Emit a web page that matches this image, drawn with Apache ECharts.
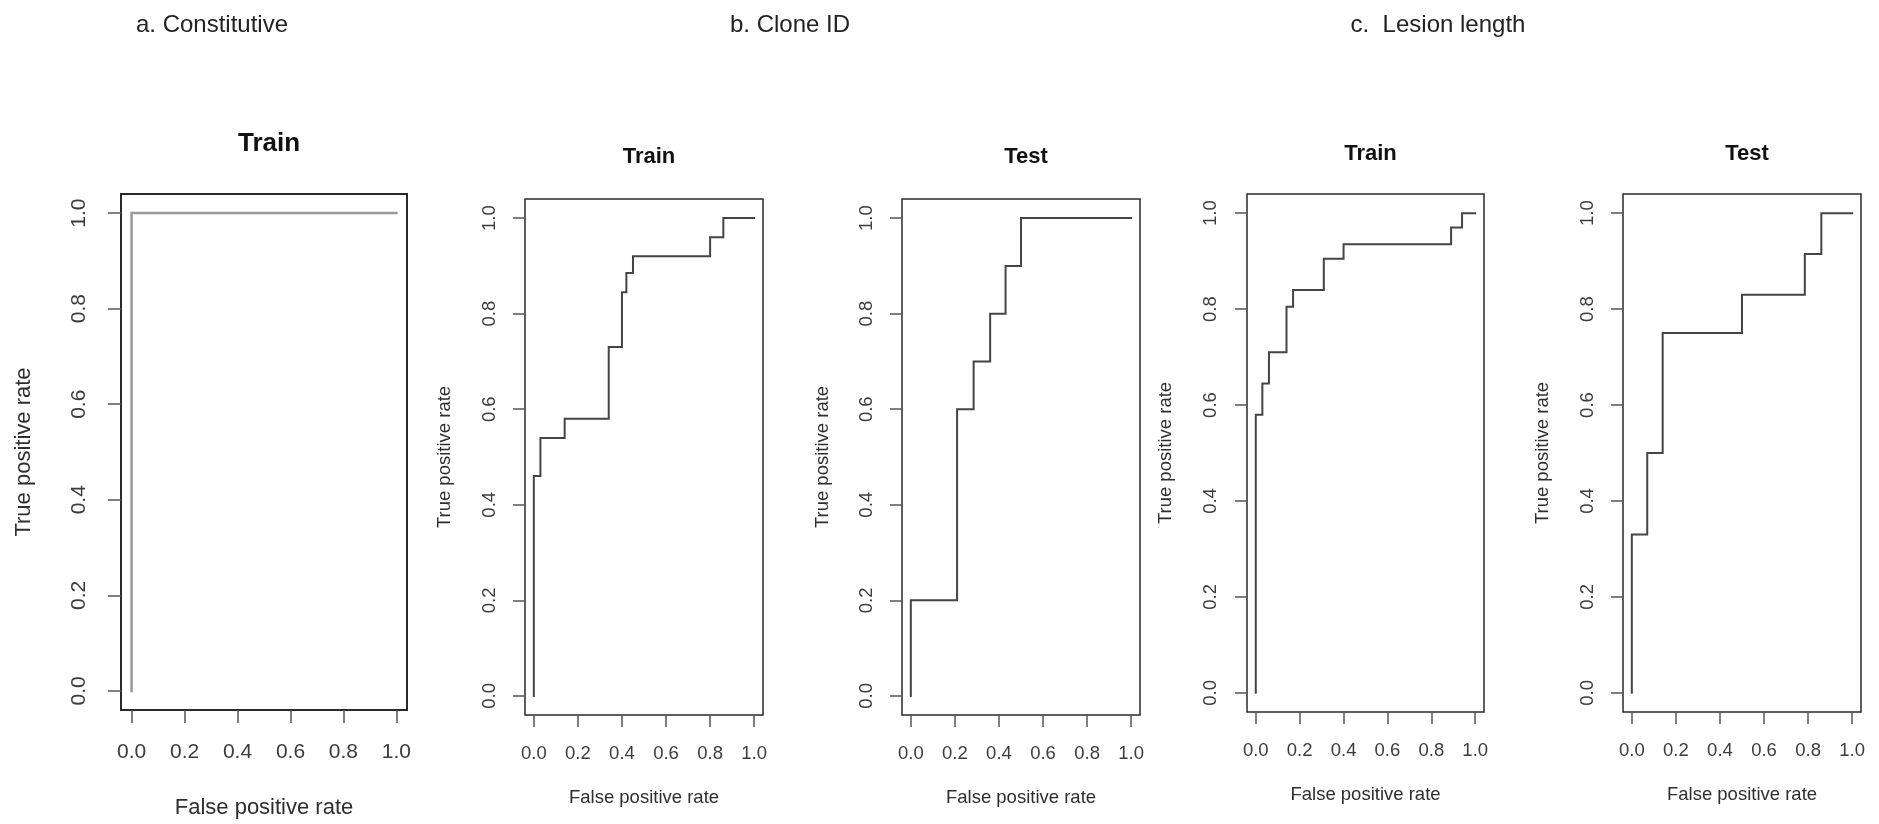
<!DOCTYPE html>
<html>
<head>
<meta charset="utf-8">
<script src="https://cdn.jsdelivr.net/npm/echarts@6/dist/echarts.min.js"></script>
<style>
  html, body { margin: 0; padding: 0; background: #ffffff; }
  #chart { width: 1879px; height: 824px; }
</style>
</head>
<body>
<div id="chart"></div>
<script>
// ---- Data (ROC curve vertices) ----
const tickValues = [0, 0.2, 0.4, 0.6, 0.8, 1.0];

const constitutiveTrainFpr = [0, 0, 1];
const constitutiveTrainTpr = [0, 1, 1];

const cloneTrainFpr = [0, 0, 0.03, 0.03, 0.14, 0.14, 0.34, 0.34, 0.40, 0.40, 0.42, 0.42, 0.45, 0.45, 0.80, 0.80, 0.86, 0.86, 1.0];
const cloneTrainTpr = [0, 0.46, 0.46, 0.54, 0.54, 0.58, 0.58, 0.73, 0.73, 0.845, 0.845, 0.885, 0.885, 0.92, 0.92, 0.96, 0.96, 1.0, 1.0];

const cloneTestFpr = [0, 0, 0.21, 0.21, 0.285, 0.285, 0.36, 0.36, 0.43, 0.43, 0.50, 0.50, 1.0];
const cloneTestTpr = [0, 0.2, 0.2, 0.6, 0.6, 0.7, 0.7, 0.8, 0.8, 0.9, 0.9, 1.0, 1.0];

const lesionTrainFpr = [0, 0, 0.03, 0.03, 0.06, 0.06, 0.14, 0.14, 0.17, 0.17, 0.31, 0.31, 0.40, 0.40, 0.89, 0.89, 0.94, 0.94, 1.0];
const lesionTrainTpr = [0, 0.58, 0.58, 0.645, 0.645, 0.71, 0.71, 0.805, 0.805, 0.84, 0.84, 0.905, 0.905, 0.935, 0.935, 0.97, 0.97, 1.0, 1.0];

const lesionTestFpr = [0, 0, 0.07, 0.07, 0.14, 0.14, 0.50, 0.50, 0.785, 0.785, 0.86, 0.86, 1.0];
const lesionTestTpr = [0, 0.33, 0.33, 0.50, 0.50, 0.75, 0.75, 0.83, 0.83, 0.915, 0.915, 1.0, 1.0];

const groupTitles = ['a. Constitutive', 'b. Clone ID', 'c.  Lesion length'];
const panelTitles = ['Train', 'Train', 'Test', 'Train', 'Test'];
const xAxisTitle = 'False positive rate';
const yAxisTitle = 'True positive rate';

// ---- Layout / styles ----
const FONT = "'Liberation Sans', Arial, Helvetica, sans-serif";
const panels = [
  { fpr: constitutiveTrainFpr, tpr: constitutiveTrainTpr, left: 121, top: 194, width: 286, height: 518,
    tickFont: 21, nameFont: 22, titleFont: 26, titleTop: 126, xMargin: 32, yMargin: 31, xGap: 87, yGap: 86, tickLen: 13,
    lineColor: '#9a9a9a', lineWidth: 2.5, boxWidth: 2 },
  { fpr: cloneTrainFpr, tpr: cloneTrainTpr, left: 525, top: 199, width: 238, height: 516,
    tickFont: 18.5, nameFont: 18.5, titleFont: 22, titleTop: 141, xMargin: 29, yMargin: 26, xGap: 73, yGap: 71, tickLen: 12,
    lineColor: '#444444', lineWidth: 2, boxWidth: 1.5 },
  { fpr: cloneTestFpr, tpr: cloneTestTpr, left: 902, top: 199, width: 238, height: 516,
    tickFont: 18.5, nameFont: 18.5, titleFont: 22, titleTop: 141, xMargin: 29, yMargin: 26, xGap: 73, yGap: 70, tickLen: 12,
    lineColor: '#444444', lineWidth: 2, boxWidth: 1.5 },
  { fpr: lesionTrainFpr, tpr: lesionTrainTpr, left: 1247, top: 194, width: 237, height: 518,
    tickFont: 18.5, nameFont: 18.5, titleFont: 22, titleTop: 138, xMargin: 29, yMargin: 27, xGap: 73, yGap: 72, tickLen: 12,
    lineColor: '#444444', lineWidth: 2, boxWidth: 1.5 },
  { fpr: lesionTestFpr, tpr: lesionTestTpr, left: 1623, top: 194, width: 238, height: 518,
    tickFont: 18.5, nameFont: 18.5, titleFont: 22, titleTop: 138, xMargin: 29, yMargin: 26, xGap: 73, yGap: 71, tickLen: 12,
    lineColor: '#444444', lineWidth: 2, boxWidth: 1.5 }
];
const groupTitlePos = [207, 785, 1433];

const grids = [], xAxes = [], yAxes = [], series = [], titles = [];

groupTitles.forEach((t, i) => {
  titles.push({
    text: t, left: groupTitlePos[i], top: 8, textAlign: 'center',
    textStyle: { fontFamily: FONT, fontSize: 24, fontWeight: 'normal', color: '#222' }
  });
});

panels.forEach((p, i) => {
  grids.push({ left: p.left, top: p.top, width: p.width, height: p.height,
    show: true, borderColor: '#2a2a2a', borderWidth: p.boxWidth, backgroundColor: 'transparent', containLabel: false });
  const common = {
    gridIndex: i, type: 'value', min: -0.04, max: 1.04,
    axisLine: { show: false, onZero: false },
    splitLine: { show: false },
    axisTick: { show: true, inside: false, length: p.tickLen, customValues: tickValues,
      lineStyle: { color: '#555', width: 1.5 } },
    nameLocation: 'middle',
    nameTextStyle: { fontFamily: FONT, fontSize: p.nameFont, color: '#2e2e2e' }
  };
  xAxes.push(Object.assign({}, common, {
    position: 'bottom',
    name: xAxisTitle, nameGap: p.xGap,
    axisLabel: { show: true, customValues: tickValues, margin: p.xMargin,
      formatter: v => Number(v).toFixed(1),
      fontFamily: FONT, fontSize: p.tickFont, color: '#3c3c3c' }
  }));
  yAxes.push(Object.assign({}, common, {
    position: 'left',
    name: yAxisTitle, nameGap: p.yGap, nameRotate: 90,
    axisLabel: { show: true, customValues: tickValues, margin: p.yMargin, rotate: 90,
      formatter: v => Number(v).toFixed(1),
      fontFamily: FONT, fontSize: p.tickFont, color: '#3c3c3c' }
  }));
  series.push({
    type: 'line', xAxisIndex: i, yAxisIndex: i,
    data: p.fpr.map((x, k) => [x, p.tpr[k]]),
    showSymbol: false, symbol: 'none', silent: true,
    lineStyle: { color: p.lineColor, width: p.lineWidth, cap: 'square', join: 'miter' },
    animation: false
  });
  titles.push({
    text: panelTitles[i], left: p.left + p.width / 2, top: p.titleTop, textAlign: 'center',
    textStyle: { fontFamily: FONT, fontSize: p.titleFont, fontWeight: 'bold', color: '#111' }
  });
});

const chart = echarts.init(document.getElementById('chart'), null, { renderer: 'canvas' });
chart.setOption({
  backgroundColor: '#ffffff',
  animation: false,
  title: titles,
  grid: grids,
  xAxis: xAxes,
  yAxis: yAxes,
  series: series
});
</script>
</body>
</html>
